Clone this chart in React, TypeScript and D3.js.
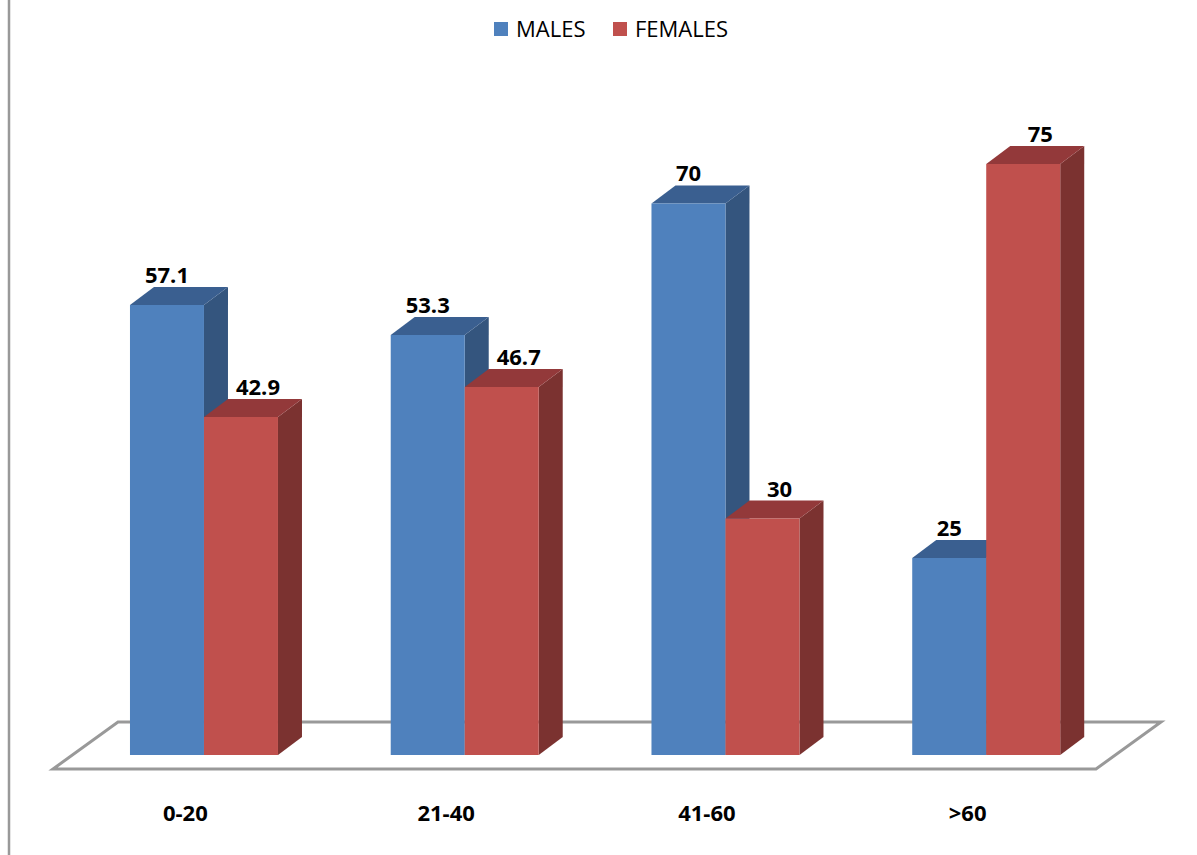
import React from "react";
import * as d3 from "d3";

const categories = ["0-20", "21-40", "41-60", ">60"];
const seriesNames = ["MALES", "FEMALES"];
const males = [57.1, 53.3, 70, 25];
const females = [42.9, 46.7, 30, 75];
const valueLabels = [
  ["57.1", "53.3", "70", "25"],
  ["42.9", "46.7", "30", "75"],
];

const colors = {
  MALES: { front: "#4F81BD", top: "#3A5F90", side: "#34557E" },
  FEMALES: { front: "#C0504D", top: "#93393A", side: "#7B3230" },
};

const W = 1197;
const H = 855;
const FONT = "'Open Sans', 'Liberation Sans', sans-serif";

export default function App() {
  const floorFront = 769;
  const floorBack = 722;
  const floorDx = 65;
  const baseY = 755;
  const depthX = 24;
  const depthY = 18;
  const groupShift = 20.6;
  const groupWidth = 148;

  const x0 = d3.scaleBand<string>().domain(categories).range([53, 1096]).padding(0);
  const xSub = d3.scaleBand<string>().domain(seriesNames).range([0, groupWidth]).padding(0);
  const y = d3.scaleLinear().domain([0, 75]).range([baseY, 164]);

  const values = [males, females];

  const floorPts: [number, number][] = [
    [53 + floorDx, floorBack],
    [1096 + floorDx, floorBack],
    [1096, floorFront],
    [53, floorFront],
  ];
  const line = d3.line();

  const bars: JSX.Element[] = [];
  const labels: JSX.Element[] = [];
  categories.forEach((c, ci) => {
    const center = (x0(c) ?? 0) + x0.bandwidth() / 2 + groupShift;
    const gx = center - groupWidth / 2;
    seriesNames.forEach((s, si) => {
      const v = values[si][ci];
      const col = (colors as any)[s];
      const xl = gx + (xSub(s) ?? 0);
      const xr = xl + xSub.bandwidth();
      const yt = y(v);
      const front = line([[xl, yt], [xr, yt], [xr, baseY], [xl, baseY]])! + "Z";
      const top = line([[xl, yt], [xl + depthX, yt - depthY], [xr + depthX, yt - depthY], [xr, yt]])! + "Z";
      const side = line([[xr, yt], [xr + depthX, yt - depthY], [xr + depthX, baseY - depthY], [xr, baseY]])! + "Z";
      bars.push(
        <g key={`${c}-${s}`}>
          <path d={side} fill={col.side} />
          <path d={top} fill={col.top} />
          <path d={front} fill={col.front} />
        </g>
      );
      const lx = (xl + xr) / 2 + (si === 1 ? 17 : 0);
      labels.push(
        <text
          key={`l-${c}-${s}`}
          x={lx}
          y={yt - depthY - 4}
          textAnchor="middle"
          fontFamily={FONT}
          fontWeight="bold"
          fontSize={22}
          fill="#000"
        >
          {valueLabels[si][ci]}
        </text>
      );
    });
  });

  const legendItems = [
    { name: "MALES", sx: 494, tx: 516 },
    { name: "FEMALES", sx: 613, tx: 635 },
  ];

  return (
    <svg
      width={W}
      height={H}
      style={{ position: "absolute", left: 0, top: 0, background: "#fff" }}
    >
      <line x1={9} y1={0} x2={9} y2={H} stroke="#999" strokeWidth={2.5} />
      <path d={line(floorPts)! + "Z"} fill="#fff" stroke="#999" strokeWidth={3} />
      {bars}
      {labels}
      {categories.map((c) => (
        <text
          key={`cat-${c}`}
          x={(x0(c) ?? 0) + x0.bandwidth() / 2 + 2}
          y={821}
          textAnchor="middle"
          fontFamily={FONT}
          fontWeight="bold"
          fontSize={22}
          fill="#000"
        >
          {c}
        </text>
      ))}
      {legendItems.map((it) => (
        <g key={it.name}>
          <rect x={it.sx} y={22} width={14} height={14} fill={(colors as any)[it.name].front} />
          <text x={it.tx} y={37} fontFamily={FONT} fontSize={22} fill="#000">
            {it.name}
          </text>
        </g>
      ))}
    </svg>
  );
}
